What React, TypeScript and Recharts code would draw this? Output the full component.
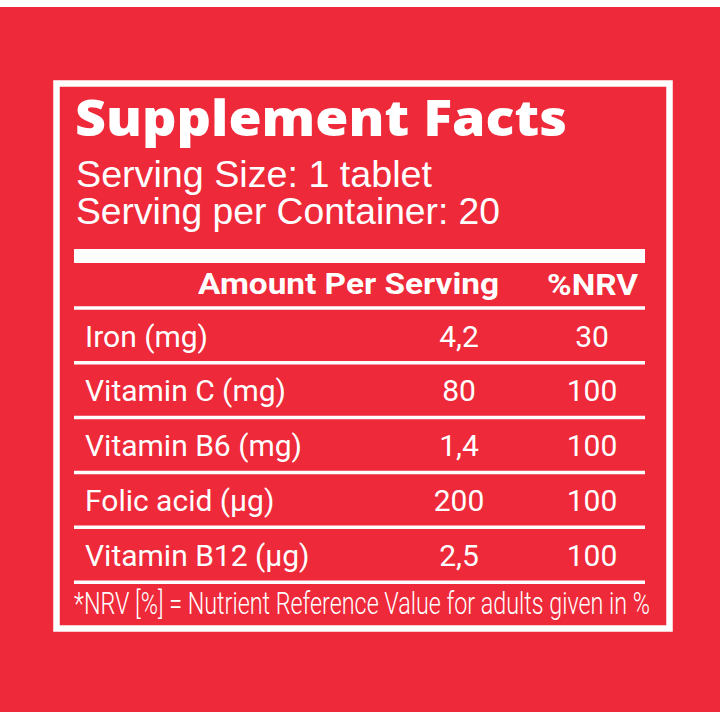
import React from 'react';
import { BarChart, Bar, XAxis, YAxis, Customized } from 'recharts';

const nutrients = ['Iron (mg)', 'Vitamin C (mg)', 'Vitamin B6 (mg)', 'Folic acid (µg)', 'Vitamin B12 (µg)'];
const amounts = ['4,2', '80', '1,4', '200', '2,5'];
const nrvPercent = [30, 100, 100, 100, 100];
const titleText = 'Supplement Facts';
const servingLines = ['Serving Size: 1 tablet', 'Serving per Container: 20'];
const columnHeaders = ['Amount Per Serving', '%NRV'];
const footnote = '*NRV [%] = Nutrient Reference Value for adults given in %';

const rows = nutrients.map((name, i) => ({ name, amount: amounts[i], nrv: nrvPercent[i] }));

const RED = 'rgb(237, 41, 58)';
const WHITE = '#ffffff';
const ROW_FONT = 'Roboto, "Noto Sans", sans-serif';

const RowShape = (props: any) => {
  const { y, height, background, payload, index } = props;
  const bx = background && background.x != null ? background.x : props.x;
  const bw = background && background.width != null ? background.width : 570;
  const cy = y + height / 2;
  const isLast = index === rows.length - 1;
  return (
    <g>
      <line x1={bx} x2={bx + bw} y1={y} y2={y} stroke={WHITE} strokeWidth={3.5} />
      {isLast && <line x1={bx} x2={bx + bw} y1={y + height} y2={y + height} stroke={WHITE} strokeWidth={3.5} />}
      <text x={bx + 11} y={cy + 11} fill={WHITE} fontFamily={ROW_FONT} fontSize={30}>
        {payload.name}
      </text>
      <text x={bx + 385} y={cy + 11} fill={WHITE} fontFamily={ROW_FONT} fontSize={30} textAnchor="middle">
        {payload.amount}
      </text>
      <text x={bx + 518} y={cy + 11} fill={WHITE} fontFamily={ROW_FONT} fontSize={30} textAnchor="middle">
        {String(payload.nrv)}
      </text>
    </g>
  );
};

const Decorations = () => (
  <g>
    <rect x={56.5} y={83.5} width={613} height={545} fill="none" stroke={WHITE} strokeWidth={6.5} />
    <text x={75} y={136} fill={WHITE} fontFamily='"Open Sans", sans-serif' fontWeight={800} fontSize={50}
      textLength={492} lengthAdjust="spacingAndGlyphs">{titleText}</text>
    <text x={76} y={187} fill={WHITE} fontFamily='"Liberation Sans", Arial, sans-serif' fontSize={37}
      textLength={356} lengthAdjust="spacingAndGlyphs">{servingLines[0]}</text>
    <text x={76} y={224} fill={WHITE} fontFamily='"Liberation Sans", Arial, sans-serif' fontSize={37}
      textLength={424} lengthAdjust="spacingAndGlyphs">{servingLines[1]}</text>
    <rect x={74} y={249} width={571} height={14} fill={WHITE} />
    <text x={198} y={294} fill={WHITE} fontFamily={ROW_FONT} fontWeight={700} fontSize={30}
      textLength={301} lengthAdjust="spacingAndGlyphs">{columnHeaders[0]}</text>
    <text x={547} y={295} fill={WHITE} fontFamily={ROW_FONT} fontWeight={700} fontSize={30}
      textLength={91} lengthAdjust="spacingAndGlyphs">{columnHeaders[1]}</text>
    <text transform="translate(74,614) scale(0.752,1)" x={0} y={0} fill={WHITE} fontFamily={ROW_FONT}
      fontWeight={300} fontSize={31} textLength={766} lengthAdjust="spacingAndGlyphs">{footnote}</text>
  </g>
);

export default function App() {
  return (
    <div style={{ position: 'fixed', left: 0, top: 0, width: 720, height: 720, background: WHITE }}>
      <div style={{ position: 'absolute', left: 0, top: 7, width: 720, height: 705, background: RED }} />
      <div style={{ position: 'absolute', left: 0, top: 0 }}>
        <BarChart
          width={720}
          height={720}
          data={rows}
          layout="vertical"
          margin={{ top: 308, right: 75, bottom: 138, left: 74 }}
          barCategoryGap={0}
        >
          <XAxis type="number" domain={[0, 100]} hide />
          <YAxis type="category" dataKey="name" hide />
          <Customized component={Decorations} />
          <Bar dataKey="nrv" isAnimationActive={false} shape={RowShape} />
        </BarChart>
      </div>
    </div>
  );
}
